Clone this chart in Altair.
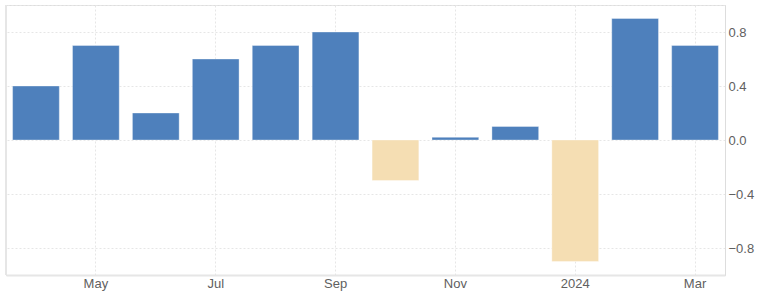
import altair as alt
import pandas as pd

months = ["Apr", "May", "Jun", "Jul", "Aug", "Sep", "Oct", "Nov", "Dec", "Jan", "Feb", "Mar"]
values = [0.4, 0.7, 0.2, 0.6, 0.7, 0.8, -0.3, 0.02, 0.1, -0.9, 0.9, 0.7]
y_ticks = [-0.8, -0.4, 0.0, 0.4, 0.8, 1.0]
shown_months = ["May", "Jul", "Sep", "Nov", "Jan", "Mar"]

df = pd.DataFrame({"month": months, "value": values})
df["sign"] = ["pos" if v >= 0 else "neg" for v in values]

shown = "['" + "','".join(shown_months) + "']"
label_expr = (
    "datum.value == 'Jan' ? '2024' : (indexof(" + shown + ", datum.value) >= 0 ? datum.value : '')"
)

FONT = "Liberation Sans"

bars = alt.Chart(df).mark_bar(stroke="#ffffff", strokeOpacity=0.35, strokeWidth=1).encode(
    x=alt.X(
        "month:N",
        sort=months,
        scale=alt.Scale(paddingInner=0.22, paddingOuter=0.11),
        axis=alt.Axis(
            title=None,
            labelExpr=label_expr,
            labelAngle=0,
            labelColor="#606060",
            labelFontSize=13,
            labelFont=FONT,
            labelPadding=2,
            ticks=False,
            domainColor="#e6e6e6",
            domainWidth=2,
            grid=True,
            bandPosition=0.5,
            gridColor="#e6e6e6",
            gridDash=[2, 2],
            gridOpacity={
                "condition": {"test": "indexof(" + shown + ", datum.value) >= 0", "value": 1},
                "value": 0,
            },
        ),
    ),
    y=alt.Y(
        "value:Q",
        scale=alt.Scale(domain=[-1, 1], nice=False),
        axis=alt.Axis(
            title=None,
            orient="right",
            values=y_ticks,
            labelExpr="datum.value >= 0.99 ? '' : format(datum.value, '.1f')",
            labelColor="#606060",
            labelFontSize=13,
            labelFont=FONT,
            labelPadding=3,
            ticks=False,
            domainColor="#dddddd",
            domainWidth=1,
            gridColor="#e6e6e6",
            gridDash=[2, 2],
        ),
    ),
    color=alt.Color(
        "sign:N",
        scale=alt.Scale(domain=["pos", "neg"], range=["#4e80bc", "#f5deb3"]),
        legend=None,
    ),
)

left_border = alt.Chart(df).mark_rule(color="#e6e6e6", strokeWidth=2).encode(
    x=alt.value(0), y=alt.value(0), y2=alt.value(270)
)

chart = (
    alt.layer(bars, left_border)
    .properties(
        width=719,
        height=270,
        autosize=alt.AutoSizeParams(type="none"),
        padding={"left": 6, "top": 5, "right": 43, "bottom": 27},
    )
    .configure_view(stroke=None)
    .configure(background="#ffffff")
)

chart.save("out.html", embed_options={"renderer": "svg", "actions": False})
